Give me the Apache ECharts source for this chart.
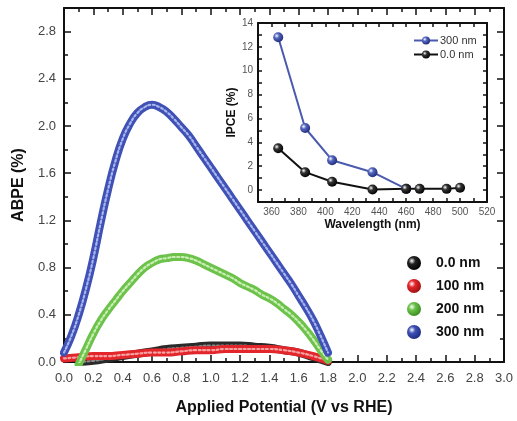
<!DOCTYPE html>
<html><head><meta charset="utf-8">
<script src="https://cdn.jsdelivr.net/npm/echarts@6/dist/echarts.min.js"></script>
<style>html,body{margin:0;padding:0;background:#fff}#c{width:517px;height:421px}</style>
</head><body><div id="c"></div>
<script>
// Main chart: ABPE (%) vs applied potential (V vs RHE)
const potBlue = [0.00,0.05,0.10,0.15,0.20,0.25,0.30,0.35,0.40,0.45,0.50,0.55,0.60,0.65,0.70,0.75,0.80,0.85,0.90,0.95,1.00,1.05,1.10,1.15,1.20,1.25,1.30,1.35,1.40,1.45,1.50,1.55,1.60,1.65,1.70,1.75,1.80];
const abpe300 = [0.08,0.22,0.40,0.62,0.88,1.18,1.46,1.70,1.89,2.02,2.11,2.16,2.18,2.16,2.12,2.06,1.99,1.92,1.83,1.74,1.65,1.56,1.47,1.38,1.29,1.20,1.11,1.02,0.93,0.84,0.75,0.66,0.56,0.46,0.35,0.22,0.08];
const potGreen = [0.10,0.15,0.20,0.25,0.30,0.35,0.40,0.45,0.50,0.55,0.60,0.65,0.70,0.75,0.80,0.85,0.90,0.95,1.00,1.05,1.10,1.15,1.20,1.25,1.30,1.35,1.40,1.45,1.50,1.55,1.60,1.65,1.70,1.75,1.80];
const abpe200 = [-0.02,0.11,0.24,0.35,0.44,0.52,0.60,0.67,0.74,0.80,0.84,0.87,0.88,0.89,0.89,0.88,0.86,0.83,0.80,0.77,0.74,0.71,0.67,0.64,0.61,0.57,0.54,0.50,0.45,0.40,0.34,0.27,0.19,0.10,0.02];
const potBlack = [0.10,0.20,0.30,0.40,0.50,0.60,0.70,0.80,0.90,1.00,1.10,1.20,1.30,1.40,1.50,1.60,1.70,1.80];
const abpe0 = [0.00,0.01,0.03,0.05,0.07,0.09,0.11,0.12,0.13,0.14,0.14,0.14,0.13,0.12,0.10,0.08,0.04,0.00];
const potRed = [0.00,0.10,0.20,0.30,0.40,0.50,0.60,0.70,0.80,0.90,1.00,1.10,1.20,1.30,1.40,1.50,1.60,1.70,1.80];
const abpe100 = [0.03,0.04,0.05,0.05,0.06,0.07,0.08,0.08,0.09,0.10,0.10,0.11,0.11,0.11,0.11,0.10,0.08,0.05,0.01];

// Inset: IPCE (%) vs wavelength (nm)
const wl300 = [365,385,405,435,460];
const ipce300 = [12.8,5.2,2.5,1.5,0.1];
const wl0 = [365,385,405,435,460,470,490,500];
const ipce0 = [3.5,1.5,0.7,0.05,0.1,0.1,0.1,0.2];

const mainNames = ['0.0 nm','100 nm','200 nm','300 nm'];
const insetNames = ['300 nm','0.0 nm'];

const zip = (a,b)=>a.map((v,i)=>[v,b[i]]);
const FONT = 'Liberation Sans';
const sphere = (c1,c2)=>({type:'radial',x:0.35,y:0.35,r:0.7,colorStops:[{offset:0,color:'#ffffff'},{offset:0.35,color:c1},{offset:1,color:c2}]});

const cols = {k:'#2a2a2a', r:'#e3262b', g:'#6cc24a', b:'#3f51b5'};
const light = {k:'#8a8a8a', r:'#f6a3a3', g:'#c9efb4', b:'#a9b6f0'};

function curve(name, data, key, z){
  return [
    {name:name, type:'line', xAxisIndex:0, yAxisIndex:0, data:data, smooth:0.5, showSymbol:false, symbol:'circle',
     lineStyle:{width:8, color:cols[key], cap:'round', join:'round'}, itemStyle:{color:cols[key]}, z:z, silent:true},
    {name:'_'+name, type:'line', xAxisIndex:0, yAxisIndex:0, data:data, smooth:0.5, showSymbol:false,
     lineStyle:{width:2.2, color:light[key], type:[2,2.5], cap:'round'}, z:z+0.5, silent:true}
  ];
}

const axCommon = {
  axisLine:{show:true, onZero:false, lineStyle:{color:'#111', width:2}},
  axisTick:{show:true, inside:true, length:7, lineStyle:{color:'#111', width:1.5}},
  minorTick:{show:true, splitNumber:2, length:4, lineStyle:{color:'#111', width:1.5}},
  splitLine:{show:false}
};

const option = {
  animation:false,
  backgroundColor:'#fff',
  grid:[
    {left:64, top:8, width:440, height:355},
    {left:258, top:23, width:229, height:179, show:true, backgroundColor:'#fff', borderWidth:0}
  ],
  legend:[
    {data:mainNames.map((n,i)=>({name:n, icon:'circle', itemStyle:{color:sphere([ '#222','#e3262b','#6cc24a','#3f51b5'][i], ['#000','#9a1010','#3a8a20','#1c2a80'][i])}})),
     orient:'vertical', left:402, top:251, itemWidth:14, itemHeight:14, itemGap:9,
     textStyle:{fontFamily:FONT, fontSize:14, fontWeight:'bold', color:'#111', padding:[0,0,0,10]}},
    {data:insetNames.map(n=>'i'+n), formatter:n=>n.slice(1), orient:'vertical', left:408, top:30, itemWidth:24, itemHeight:10, itemGap:3,
     textStyle:{fontFamily:FONT, fontSize:11, color:'#333', padding:[0,0,0,-3]}}
  ],
  xAxis:[
    Object.assign({}, axCommon, {gridIndex:0, type:'value', min:0, max:3, interval:0.2, position:'bottom',
      name:'Applied Potential (V vs RHE)', nameLocation:'middle', nameGap:38,
      nameTextStyle:{fontFamily:FONT, fontSize:16, fontWeight:'bold', color:'#111'},
      axisLabel:{fontFamily:FONT, fontSize:13, color:'#444', margin:10, formatter:v=>v.toFixed(1)}}),
    Object.assign({}, axCommon, {gridIndex:0, type:'value', min:0, max:3, interval:0.2, position:'top', axisLabel:{show:false}}),
    Object.assign({}, axCommon, {gridIndex:1, type:'value', min:350, max:520, interval:10, position:'bottom',
      name:'Wavelength (nm)', nameLocation:'middle', nameGap:17,
      nameTextStyle:{fontFamily:FONT, fontSize:12, fontWeight:'bold', color:'#111'},
      axisTick:{show:true, inside:true, length:4, lineStyle:{color:'#111', width:1.5}}, minorTick:{show:false},
      axisLabel:{fontFamily:FONT, fontSize:10, color:'#555', margin:5, formatter:v=>(v%20===0?String(v):'')}}),
    Object.assign({}, axCommon, {gridIndex:1, type:'value', min:350, max:520, interval:10, position:'top',
      axisTick:{show:true, inside:true, length:4, lineStyle:{color:'#111', width:1.5}}, minorTick:{show:false}, axisLabel:{show:false}})
  ],
  yAxis:[
    Object.assign({}, axCommon, {gridIndex:0, type:'value', min:0, max:3, interval:0.4, position:'left',
      name:'ABPE (%)', nameLocation:'middle', nameGap:34,
      nameTextStyle:{fontFamily:FONT, fontSize:16, fontWeight:'bold', color:'#111'},
      axisLabel:{fontFamily:FONT, fontSize:13, color:'#444', margin:8, formatter:v=>(v>2.9?'':v.toFixed(1))}}),
    Object.assign({}, axCommon, {gridIndex:0, type:'value', min:0, max:3, interval:0.4, position:'right', axisLabel:{show:false}}),
    Object.assign({}, axCommon, {gridIndex:1, type:'value', min:-1, max:14, interval:1, position:'left',
      name:'IPCE (%)', nameLocation:'middle', nameGap:16,
      nameTextStyle:{fontFamily:FONT, fontSize:12, fontWeight:'bold', color:'#111'},
      axisTick:{show:true, inside:true, length:4, lineStyle:{color:'#111', width:1.5}}, minorTick:{show:false},
      axisLabel:{fontFamily:FONT, fontSize:10, color:'#555', margin:5, formatter:v=>(v>=0 && v%2===0?String(v):'')}}),
    Object.assign({}, axCommon, {gridIndex:1, type:'value', min:-1, max:14, interval:1, position:'right',
      axisTick:{show:true, inside:true, length:4, lineStyle:{color:'#111', width:1.5}}, minorTick:{show:false}, axisLabel:{show:false}})
  ],
  series:[].concat(
    curve('0.0 nm', zip(potBlack, abpe0), 'k', 2),
    curve('100 nm', zip(potRed, abpe100), 'r', 3),
    curve('200 nm', zip(potGreen, abpe200), 'g', 4),
    curve('300 nm', zip(potBlue, abpe300), 'b', 5),
    [
      {name:'i300 nm', type:'line', xAxisIndex:2, yAxisIndex:2, data:zip(wl300, ipce300), symbol:'circle', symbolSize:10,
       lineStyle:{width:2, color:'#4a5aae'}, itemStyle:{color:sphere('#5566c0','#1e2a78')}, z:10},
      {name:'i0.0 nm', type:'line', xAxisIndex:2, yAxisIndex:2, data:zip(wl0, ipce0), symbol:'circle', symbolSize:10,
       lineStyle:{width:2, color:'#111'}, itemStyle:{color:sphere('#333','#000')}, z:10}
    ]
  )
};
const chart = echarts.init(document.getElementById('c'), null, {renderer:'canvas'});
chart.setOption(option);
</script></body></html>
